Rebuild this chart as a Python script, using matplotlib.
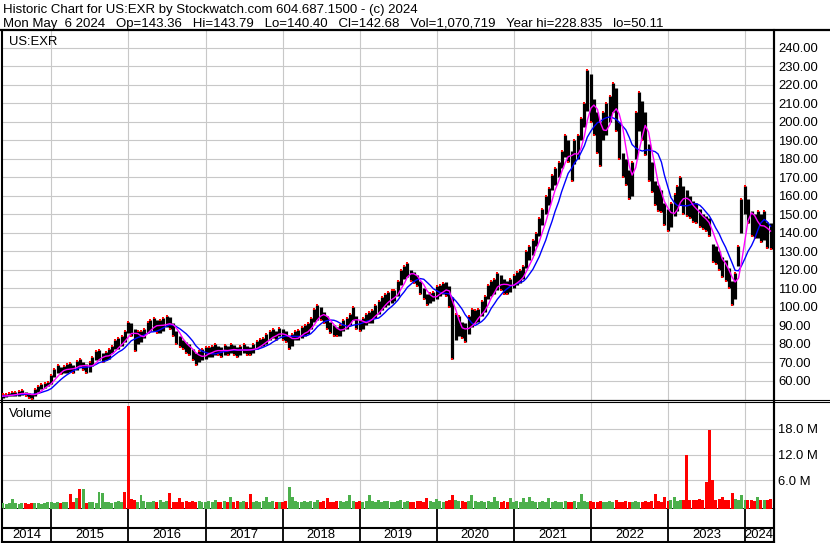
"""Stockwatch-style historic chart for US:EXR (price bars + MAs, volume, year strip)."""
import numpy as np
import pandas as pd
import matplotlib
matplotlib.use("Agg")
import matplotlib.pyplot as plt
from matplotlib.lines import Line2D

plt.rcParams["font.family"] = ["Liberation Sans", "DejaVu Sans"]

# ---- data: semi-monthly low / high, volume (millions) ----
LO_2014 = [50.8, 51.0, 51.5, 51.5, 51.8, 52.0, 52.5, 51.5, 50.5, 50.3, 52.0, 54.0, 55.5, 56.0, 57.0]
HI_2014 = [52.6, 52.8, 53.5, 53.8, 54.0, 54.3, 55.0, 54.0, 53.5, 53.0, 55.5, 57.0, 58.5, 59.0, 59.5]
LO_2015 = [58.5, 62, 64, 63.5, 64, 64, 65, 64, 66, 68, 66, 64, 65, 68, 71, 71, 70, 71, 72, 75, 77, 77, 79, 81]
HI_2015 = [63, 66.5, 68.5, 67.5, 68, 69, 69.5, 68.5, 70.5, 72, 70, 69, 70, 73, 76, 76.5, 75, 75.5, 77, 79, 82, 83, 84, 87]
LO_2016 = [86, 84, 76, 80, 81, 83, 86, 87, 87, 86, 86, 87, 89, 88, 84, 80, 78, 77, 75, 74, 71, 68.5, 70, 71]
HI_2016 = [92, 91, 88, 87, 87, 88, 92, 93, 94, 93, 93, 94, 95, 94.5, 91, 87, 84, 82, 81, 80, 77, 75, 76, 77]
LO_2017 = [72, 73, 73, 74, 74, 73, 74, 74, 75, 74, 73, 74, 75, 74, 74, 75, 77, 78, 79, 80, 82, 83, 82, 84]
HI_2017 = [78, 78.5, 79, 80, 79, 78, 79.5, 79, 80, 79.5, 78.5, 79, 80, 79, 78.5, 80, 81.5, 82.5, 83, 85, 87, 88, 87, 88.5]
LO_2018 = [82, 81, 77, 79, 82, 82, 83, 84, 85, 88, 92, 93, 93, 91, 88, 86, 84, 84, 84, 87, 88, 90, 93, 88]
HI_2018 = [88, 87, 84, 85, 87, 87.5, 89, 90, 91, 94, 99, 101, 100, 97, 95, 92, 90, 89, 90, 93, 94, 96, 100, 95]
LO_2019 = [87, 88, 90, 91, 91, 94, 96, 98, 100, 101, 102, 103, 106, 112, 115, 116, 114, 113, 111, 107, 104, 101, 102, 103]
HI_2019 = [93, 94, 96, 97, 98, 101, 103, 105, 107, 108, 109, 109, 114, 120, 122, 123.5, 120, 119, 117, 114, 110, 107, 107.5, 108]
LO_2020 = [104, 106, 107, 106, 100, 72, 82, 84, 83, 81, 85, 89, 91, 92, 95, 97, 104, 106, 107, 109, 109, 107, 107, 108]
HI_2020 = [111, 112, 113, 113.5, 111, 105, 96, 95, 92, 91, 95, 99, 98, 99, 103, 106, 112, 114, 115, 118, 117, 115, 114, 115]
LO_2021 = [110, 112, 113, 115, 121, 125, 128, 133, 138, 144, 150, 155, 163, 166, 170, 175, 181, 178, 168, 177, 180, 190, 197, 206]
HI_2021 = [117, 119, 120, 122, 130, 133, 136, 140, 148, 153, 160, 164, 171, 175, 178, 184, 193, 190, 184, 190, 193, 202, 210, 228]
LO_2022 = [200, 193, 183, 176, 190, 193, 200, 205, 195, 180, 170, 166, 158, 160, 180, 195, 190, 182, 168, 162, 155, 152, 151, 144]
HI_2022 = [226, 212, 205, 200, 205, 210, 214, 221, 218, 200, 183, 180, 174, 178, 205, 216, 211, 205, 188, 178, 168, 166, 163, 156]
LO_2023 = [141, 143, 149, 152, 155, 150, 149, 148, 146, 145, 143, 142, 141, 138, 124, 123, 120, 116, 114, 110, 101, 104, 122, 140]
HI_2023 = [153, 156, 161, 165, 170, 165, 163, 160, 157, 156, 153, 150, 149, 148, 134, 133, 130, 127, 125, 121, 114, 118, 133, 158]
LO_2024 = [150, 145, 138, 137, 137, 135, 136, 132, 131]
HI_2024 = [165, 158, 152, 150, 152, 150, 152, 146, 145]

VOL_2014 = [0.5, 0.4, 0.6, 1.5, 0.5, 0.4, 0.6, 0.5, 0.4, 0.5, 0.6, 0.5, 0.4, 0.6, 0.9]
VOL_2015 = [0.8, 0.7, 0.9, 0.6, 0.8, 0.9, 2.7, 0.8, 1.7, 3.8, 3.9, 0.7, 0.9, 0.8, 0.7, 3.2, 2.9, 0.8, 0.9, 0.7, 0.8, 1.0, 0.9, 3.2]
VOL_2016 = [23.4, 1.5, 1.4, 0.9, 2.5, 1.0, 0.8, 0.9, 1.1, 0.8, 1.4, 0.9, 1.0, 3.0, 0.9, 0.8, 1.7, 0.9, 1.0, 0.8, 1.1, 0.9, 1.0, 0.8]
VOL_2017 = [0.9, 1.0, 0.8, 1.3, 0.9, 0.8, 1.0, 0.9, 1.9, 0.8, 1.0, 0.9, 1.1, 0.8, 2.8, 0.9, 1.0, 0.8, 1.1, 2.0, 0.9, 1.0, 0.8, 0.9]
VOL_2018 = [0.9, 1.0, 4.4, 2.1, 1.0, 0.9, 0.8, 1.1, 0.9, 1.0, 0.8, 1.2, 0.9, 1.0, 1.7, 0.9, 0.8, 1.1, 1.0, 0.9, 1.0, 2.4, 1.1, 0.9]
VOL_2019 = [1.0, 0.9, 1.1, 2.4, 1.0, 0.8, 1.3, 0.9, 1.0, 1.1, 0.9, 0.8, 1.0, 1.2, 0.9, 1.0, 0.8, 0.9, 1.1, 1.0, 0.9, 1.7, 1.0, 0.8]
VOL_2020 = [1.5, 1.0, 0.9, 1.1, 1.2, 2.4, 1.3, 1.1, 1.0, 0.9, 1.1, 2.5, 1.0, 0.9, 1.0, 0.8, 1.1, 0.9, 2.0, 1.0, 0.9, 1.1, 0.8, 1.7]
VOL_2021 = [0.9, 1.0, 0.8, 1.7, 0.9, 1.9, 1.0, 0.8, 0.9, 1.1, 0.9, 1.7, 0.8, 1.0, 0.9, 0.8, 1.0, 0.9, 0.8, 1.1, 0.9, 2.7, 1.0, 0.9]
VOL_2022 = [1.0, 0.9, 0.8, 1.0, 0.9, 0.8, 1.1, 0.9, 1.2, 0.8, 0.9, 1.0, 0.8, 0.9, 1.0, 0.8, 0.9, 1.1, 0.9, 1.0, 2.6, 1.0, 0.9, 2.0]
VOL_2023 = [1.1, 1.2, 1.9, 1.0, 1.3, 1.2, 11.9, 1.4, 1.3, 1.2, 1.5, 1.3, 5.6, 17.8, 6.0, 1.4, 1.5, 1.9, 1.4, 1.3, 2.9, 1.5, 1.4, 2.5]
VOL_2024 = [1.3, 1.2, 1.4, 1.1, 2.0, 1.3, 1.2, 1.4, 1.5]

# colour of the tall volume spikes as seen in the picture
RED_SPIKES = ["2015-04-01", "2015-05-15", "2015-12-15", "2016-01-01", "2016-07-15",
              "2023-04-01", "2023-07-01", "2023-07-15", "2023-08-01"]
GREEN_SPIKES = ["2015-05-01", "2015-06-01", "2015-08-15", "2015-09-01", "2018-02-01"]

PRICE_TICKS = list(range(60, 241, 10))
VOL_TICKS = [6, 12, 18]
YEARS = list(range(2014, 2025))

HEADER1 = "Historic Chart for US:EXR by Stockwatch.com 604.687.1500 - (c) 2024"
HEADER2 = ("Mon May  6 2024   Op=143.36   Hi=143.79   Lo=140.40   Cl=142.68   "
           "Vol=1,070,719   Year hi=228.835   lo=50.11")

lo = np.array(LO_2014 + LO_2015 + LO_2016 + LO_2017 + LO_2018 + LO_2019
              + LO_2020 + LO_2021 + LO_2022 + LO_2023 + LO_2024, dtype=float)
hi = np.array(HI_2014 + HI_2015 + HI_2016 + HI_2017 + HI_2018 + HI_2019
              + HI_2020 + HI_2021 + HI_2022 + HI_2023 + HI_2024, dtype=float)
vol = np.array(VOL_2014 + VOL_2015 + VOL_2016 + VOL_2017 + VOL_2018 + VOL_2019
               + VOL_2020 + VOL_2021 + VOL_2022 + VOL_2023 + VOL_2024, dtype=float)
dates = pd.date_range("2014-05-15", periods=len(lo), freq="SMS")

mid = (lo + hi) / 2
up = np.r_[True, np.diff(mid) >= 0]
ma_fast = pd.Series(mid).rolling(4, min_periods=1).mean()
ma_slow = pd.Series(mid).rolling(8, min_periods=1).mean()

W, H = 830, 543
fig = plt.figure(figsize=(W / 100, H / 100), dpi=100)
fx = lambda px: px / W
fy = lambda py: 1 - py / H

X0, X1 = 1.5, 773.5
XLIM = (pd.Timestamp("2014-05-10"), pd.Timestamp("2024-05-15"))
year_starts = [pd.Timestamp(f"{y}-01-01") for y in YEARS[1:]]
GRID = "#c8c8c8"
FS = 9.4

# ---- price panel ----
ax = fig.add_axes([fx(X0), fy(400), fx(X1 - X0), (400 - 31) / H])
ax.set_xlim(*XLIM)
ax.set_ylim(49.6, 249.0)
ax.vlines(dates, lo, hi, color="black", lw=2.3, zorder=3)
ax.plot(dates[~up], lo[~up], "s", color="red", ms=1.8, mew=0, zorder=4)
ax.plot(dates[up], hi[up], "s", color="red", ms=1.8, mew=0, zorder=4)
ax.plot(dates, ma_slow, color="#0000ff", lw=1.0, zorder=5)
ax.plot(dates, ma_fast, color="#ff00ff", lw=1.0, zorder=5)
ax.set_yticks(PRICE_TICKS)
ax.set_yticklabels([f"{v:.2f}" for v in PRICE_TICKS])
ax.set_xticks(year_starts)
ax.tick_params(axis="x", length=0, labelbottom=False)
ax.tick_params(axis="y", length=0, pad=3.5, labelsize=FS, labelright=True, labelleft=False)
ax.grid(True, color=GRID, lw=0.8, zorder=0)
fig.text(fx(9), fy(42), "US:EXR", fontsize=FS, va="center", ha="left")

# ---- volume panel ----
av = fig.add_axes([fx(X0), fy(509), fx(X1 - X0), (509 - 402) / H])
av.set_xlim(*XLIM)
VBOT = -0.82
av.set_ylim(VBOT, 24.35)
colors = np.where(up, "#4cb04c", "#ff0000")
colors[dates.isin(pd.to_datetime(RED_SPIKES))] = "#ff0000"
colors[dates.isin(pd.to_datetime(GREEN_SPIKES))] = "#4cb04c"
av.bar(dates, vol - VBOT, bottom=VBOT, width=14, color=colors, lw=0, zorder=3)
av.set_yticks(VOL_TICKS)
av.set_yticklabels([f"{v:.1f} M" for v in VOL_TICKS])
av.set_xticks(year_starts)
av.tick_params(axis="x", length=0, labelbottom=False)
av.tick_params(axis="y", length=0, pad=3.5, labelsize=FS, labelright=True, labelleft=False)
av.grid(True, color=GRID, lw=0.8, zorder=0)
fig.text(fx(9), fy(414), "Volume", fontsize=FS, va="center", ha="left")

# ---- year strip ----
ay = fig.add_axes([fx(X0), fy(542), fx(X1 - X0), (542 - 509) / H])
ay.set_xlim(*XLIM)
ay.set_ylim(0, 1)
ay.set_xticks([])
ay.set_yticks([])
ay.vlines(year_starts, 0, 1, color="black", lw=1.3)
ay.axhline((542 - 527.5) / 33, color="black", lw=1.5)
bounds = [XLIM[0]] + year_starts + [XLIM[1]]
for yr, a, b in zip(YEARS, bounds[:-1], bounds[1:]):
    ay.text(a + (b - a) / 2, (542 - 534.5) / 33, str(yr), fontsize=FS,
            ha="center", va="center")

for a in (ax, av, ay):
    for side in ("left", "right"):
        a.spines[side].set_linewidth(1.5)
    a.spines["top"].set_visible(False)
    a.spines["bottom"].set_linewidth(0.8)
ay.spines["bottom"].set_linewidth(1.5)
av.spines["bottom"].set_linewidth(1.3)

# full-width rules and header
for yy, lw in ((30.2, 1.6), (400.3, 0.8), (402.2, 0.8)):
    fig.add_artist(Line2D([0, 1], [fy(yy), fy(yy)], color="black", lw=lw))
fig.add_artist(Line2D([fx(X1), fx(X1)], [fy(30), fy(542)], color="black", lw=1.5))
fig.text(fx(3), fy(12.7), HEADER1, fontsize=9.5, va="baseline", ha="left")
fig.text(fx(3), fy(27.3), HEADER2, fontsize=9.5, va="baseline", ha="left")

fig.savefig("out.png", dpi=100)
